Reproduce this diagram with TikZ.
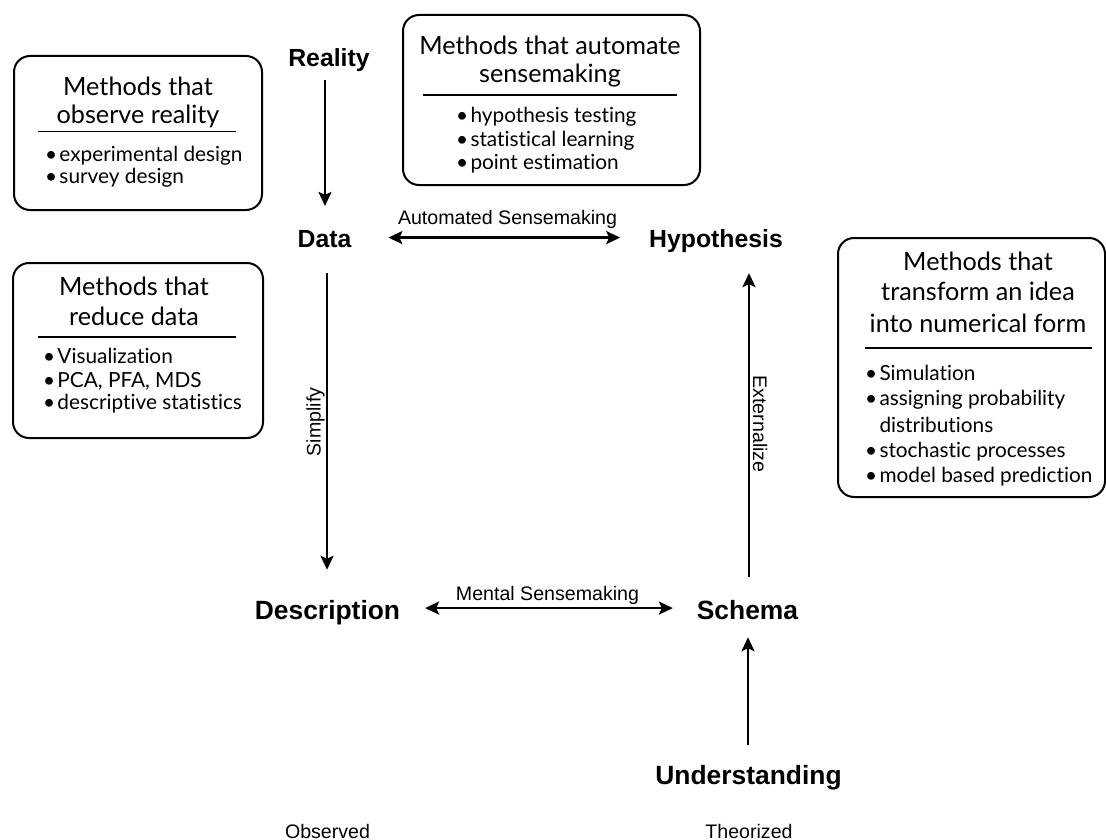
\documentclass[tikz,border=0pt]{standalone}
\usepackage{fontspec}
\setmainfont{Liberation Sans}
\newfontfamily\boxfont[Ligatures={NoCommon,NoDiscretionary}]{Lato}
\usetikzlibrary{arrows.meta,calc}

% bullet with a fixed hanging width for the method lists
\newcommand{\mbullet}{\makebox[14.5pt][l]{•}}
\newcommand{\mhang}{\hspace*{14.5pt}}

\begin{document}
\begin{tikzpicture}[x=1pt,y=-1pt,
  every node/.style={inner sep=0pt, outer sep=0pt},
  stage/.style={anchor=base, font=\bfseries\fontsize{24.8}{28}\selectfont},
  stagebig/.style={anchor=base, font=\bfseries\fontsize{26.4}{30}\selectfont},
  flowlabel/.style={anchor=base, font=\fontsize{19.6}{22}\selectfont},
  tip/.tip={Stealth[length=14pt,width=13pt,inset=3pt]},
  flow/.style={line width=2.5pt, -tip},
  twoway/.style={line width=2.5pt, tip-tip},
  methodbox/.style={draw, line width=2pt, rounded corners=16pt},
  boxhead/.style={anchor=base, font=\boxfont\fontsize{25.2}{30}\selectfont},
  boxitem/.style={anchor=base west, font=\boxfont\fontsize{20.8}{24}\selectfont},
  boxrule/.style={line width=1.1pt},
]
\fill[white] (0,0) rectangle (1106,840);
\useasboundingbox (0,0) rectangle (1106,840);

% ---- stages of sensemaking ----
\node[stage] (reality) at (329,67) {Reality};
\node[stage] (data) at (324.5,247) {Data};
\node[stage] (hyp) at (716,247) {Hypothesis};
\node[stagebig] (desc) at (327.5,619.5) {Description};
\node[stagebig] (schema) at (747.5,619.5) {Schema};
\node[stagebig] (underst) at (748.5,784) {Understanding};

% ---- flows between stages ----
\draw[flow] ($(reality.south -| data.north)+(0.5,8)$) -- ($(data.north)+(0.5,-24)$);
\draw[flow] ($(data.south)+(2.5,26)$) -- ($(desc.north -| data.south)+(2.5,-30.6)$);
\draw[flow] ($(schema.north)+(1.5,-23.6)$) -- ($(hyp.south -| schema.north)+(1.5,21)$);
\draw[flow] ($(underst.north)+(-0.5,-20)$) -- ($(schema.south -| underst.north)+(-0.5,17.5)$);
\draw[twoway] ($(data.east)+(37,-1)$) -- ($(data.east -| hyp.west)+(-29,-1)$);
\draw[twoway] ($(desc.east |- schema.west)+(25,-2)$) -- ($(schema.west)+(-24,-2)$);

\node[flowlabel] (autolabel) at (507.5,224) {Automated Sensemaking};
\node[flowlabel] (mentallabel) at (547.5,600) {Mental Sensemaking};
\node[flowlabel, rotate=90] (simplifylabel) at (320.7,422) {Simplify};
\node[flowlabel, rotate=-90] (externlabel) at (753,424) {Externalize};
\node[flowlabel] (observed) at (327.5,838) {Observed};
\node[flowlabel] (theorized) at (749,838) {Theorized};

% ---- methods that observe reality ----
\node[methodbox, minimum width=248pt, minimum height=154pt] (observebox) at (138,133) {};
\node[boxhead] (observehead1) at (138,96) {Methods that};
\node[boxhead] (observehead2) at (138,124) {observe reality};
\draw[boxrule] (38,131.7) -- (236,131.7);
\node[boxitem] (observeitem1) at (45,162) {\mbullet experimental design};
\node[boxitem] (observeitem2) at (45,183) {\mbullet survey design};

% ---- methods that automate sensemaking ----
\node[methodbox, minimum width=297pt, minimum height=170pt] (autobox) at (551.5,100) {};
\node[boxhead] (autohead1) at (550,55) {Methods that automate};
\node[boxhead] (autohead2) at (550,83) {sensemaking};
\draw[boxrule] (423,95) -- (677,95);
\node[boxitem] (autoitem1) at (456,122.7) {\mbullet hypothesis testing};
\node[boxitem] (autoitem2) at (456,146.7) {\mbullet statistical learning};
\node[boxitem] (autoitem3) at (456,170) {\mbullet point estimation};

% ---- methods that reduce data ----
\node[methodbox, minimum width=250pt, minimum height=175pt] (reducebox) at (138,350.5) {};
\node[boxhead] (reducehead1) at (134,295) {Methods that};
\node[boxhead] (reducehead2) at (134,325) {reduce data};
\draw[boxrule] (38,337) -- (236,337);
\node[boxitem] (reduceitem1) at (43,363) {\mbullet Visualization};
\node[boxitem] (reduceitem2) at (43,387) {\mbullet PCA, PFA, MDS};
\node[boxitem] (reduceitem3) at (43,409) {\mbullet descriptive statistics};

% ---- methods that transform an idea ----
\node[methodbox, minimum width=267pt, minimum height=259pt] (transformbox) at (971.5,367.5) {};
\node[boxhead] (transformhead1) at (978,270) {Methods that};
\node[boxhead] (transformhead2) at (978,300) {transform an idea};
\node[boxhead] (transformhead3) at (978,332) {into numerical form};
\draw[boxrule] (865,348) -- (1092,348);
\node[boxitem] (transformitem1) at (865,380) {\mbullet Simulation};
\node[boxitem] (transformitem2) at (865,405) {\mbullet assigning probability};
\node[boxitem] (transformitem2b) at (865,432) {\mhang distributions};
\node[boxitem] (transformitem3) at (865,457) {\mbullet stochastic processes};
\node[boxitem] (transformitem4) at (865,482) {\mbullet model based prediction};
\end{tikzpicture}
\end{document}
